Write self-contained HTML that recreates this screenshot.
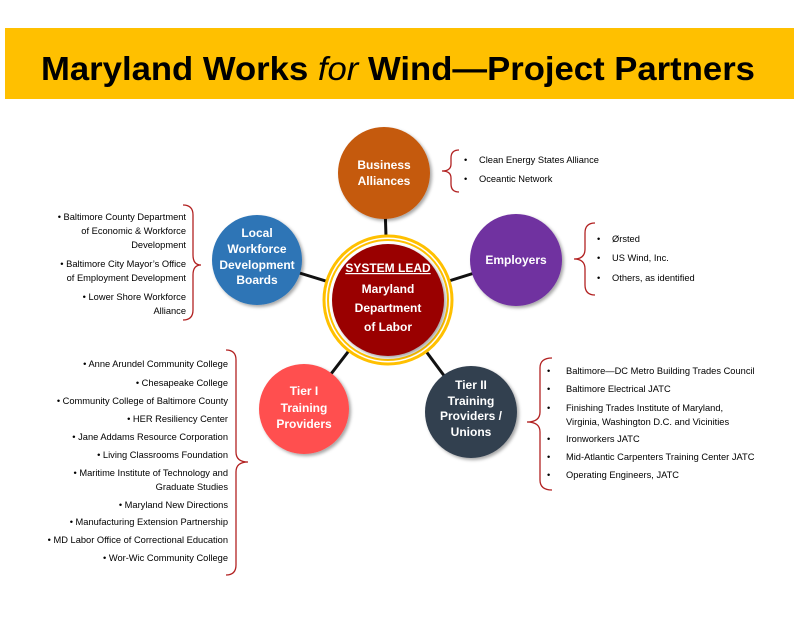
<!DOCTYPE html>
<html><head><meta charset="utf-8"><style>
html,body{margin:0;padding:0;background:#fff;}
svg{display:block;}
text{font-family:"Liberation Sans",sans-serif;}
.l{font-size:9.3px;fill:#000;}
.c{font-size:12px;font-weight:bold;fill:#fff;text-anchor:middle;}
</style></head><body>
<svg width="800" height="618" viewBox="0 0 800 618" xmlns="http://www.w3.org/2000/svg">
<defs><filter id="sh" x="-20%" y="-20%" width="150%" height="150%"><feDropShadow dx="2" dy="2" stdDeviation="1.5" flood-color="#000" flood-opacity="0.35"/></filter></defs>
<rect x="5" y="28" width="789" height="71" fill="#FFC000"/>
<text x="398" y="80" text-anchor="middle" font-size="33" font-weight="bold" fill="#000" textLength="714" lengthAdjust="spacingAndGlyphs">Maryland Works <tspan font-style="italic" font-weight="normal">for</tspan> Wind—Project Partners</text>

<g stroke="#111" stroke-width="3">
<line x1="388" y1="300" x2="384" y2="173"/>
<line x1="388" y1="300" x2="257" y2="260"/>
<line x1="388" y1="300" x2="516" y2="260"/>
<line x1="388" y1="300" x2="304" y2="409"/>
<line x1="388" y1="300" x2="471" y2="412"/>
</g>

<g filter="url(#sh)">
<circle cx="384" cy="173" r="46" fill="#C55A11"/>
<circle cx="257" cy="260" r="45" fill="#2E75B6"/>
<circle cx="516" cy="260" r="46" fill="#7030A0"/>
<circle cx="304" cy="409" r="45" fill="#FF5050"/>
<circle cx="471" cy="412" r="46" fill="#323F4F"/>
</g>
<circle cx="388" cy="300" r="64" fill="#fff" stroke="#FFC000" stroke-width="3"/>
<circle cx="388" cy="300" r="60" fill="none" stroke="#FFC000" stroke-width="2"/>
<circle cx="388" cy="300" r="56" fill="#9A0000" filter="url(#sh)"/>

<text class="c" x="384" y="169">Business</text>
<text class="c" x="384" y="185">Alliances</text>
<text class="c" x="257" y="237">Local</text>
<text class="c" x="257" y="253">Workforce</text>
<text class="c" x="257" y="269">Development</text>
<text class="c" x="257" y="284">Boards</text>
<text class="c" x="516" y="264">Employers</text>
<text class="c" x="304" y="395">Tier I</text>
<text class="c" x="304" y="412">Training</text>
<text class="c" x="304" y="428">Providers</text>
<text class="c" x="471" y="389">Tier II</text>
<text class="c" x="471" y="405">Training</text>
<text class="c" x="471" y="420">Providers /</text>
<text class="c" x="471" y="436">Unions</text>
<text class="c" x="388" y="272" font-size="9" text-decoration="underline">SYSTEM LEAD</text>
<text class="c" x="388" y="293" font-size="14.5">Maryland</text>
<text class="c" x="388" y="312" font-size="14.5">Department</text>
<text class="c" x="388" y="331" font-size="14.5">of Labor</text>

<g fill="none" stroke="#B22222" stroke-width="1.3">
<path d="M459 150 q-8 0 -8 8 v6 q0 7 -9 7 q9 0 9 7 v6 q0 8 8 8"/>
<path d="M595 223 q-10 0 -10 10 v16 q0 10 -11 10 q11 0 11 10 v16 q0 10 10 10"/>
<path d="M183 205 q10 0 10 10 v40 q0 10 8 10 q-8 0 -8 10 v35 q0 10 -10 10"/>
<path d="M226 350 q10 0 10 10 v92 q0 10 12 10 q-12 0 -12 10 v93 q0 10 -10 10"/>
<path d="M552 358 q-12 0 -12 10 v44 q0 10 -13 10 q13 0 13 10 v48 q0 10 12 10"/>
</g>

<g class="l">
<text x="464" y="163">•</text><text x="479" y="163">Clean Energy States Alliance</text>
<text x="464" y="182">•</text><text x="479" y="182">Oceantic Network</text>
<text x="597" y="242">•</text><text x="612" y="242">Ørsted</text>
<text x="597" y="261">•</text><text x="612" y="261">US Wind, Inc.</text>
<text x="597" y="281">•</text><text x="612" y="281">Others, as identified</text>
</g>
<g class="l" text-anchor="end">
<text x="186" y="220">•  Baltimore County Department</text>
<text x="186" y="234">of Economic &amp; Workforce</text>
<text x="186" y="248">Development</text>
<text x="186" y="267">•  Baltimore City Mayor’s Office</text>
<text x="186" y="281">of Employment Development</text>
<text x="186" y="300">•  Lower Shore Workforce</text>
<text x="186" y="314">Alliance</text>

<text x="228" y="367">•  Anne Arundel Community College</text>
<text x="228" y="386">•  Chesapeake College</text>
<text x="228" y="404">•  Community College of Baltimore County</text>
<text x="228" y="422">•  HER Resiliency Center</text>
<text x="228" y="440">•  Jane Addams Resource Corporation</text>
<text x="228" y="458">•  Living Classrooms Foundation</text>
<text x="228" y="476">•  Maritime Institute of Technology and</text>
<text x="228" y="490">Graduate Studies</text>
<text x="228" y="508">•  Maryland New Directions</text>
<text x="228" y="525">•  Manufacturing Extension Partnership</text>
<text x="228" y="543">•  MD Labor Office of Correctional Education</text>
<text x="228" y="561">•  Wor-Wic Community College</text>
</g>
<g class="l">
<text x="547" y="374">•</text><text x="566" y="374">Baltimore—DC Metro Building Trades Council</text>
<text x="547" y="392">•</text><text x="566" y="392">Baltimore Electrical JATC</text>
<text x="547" y="411">•</text><text x="566" y="411">Finishing Trades Institute of Maryland,</text>
<text x="566" y="425">Virginia, Washington D.C. and Vicinities</text>
<text x="547" y="442">•</text><text x="566" y="442">Ironworkers JATC</text>
<text x="547" y="460">•</text><text x="566" y="460">Mid-Atlantic Carpenters Training Center JATC</text>
<text x="547" y="478">•</text><text x="566" y="478">Operating Engineers, JATC</text>
</g>
</svg>
</body></html>
